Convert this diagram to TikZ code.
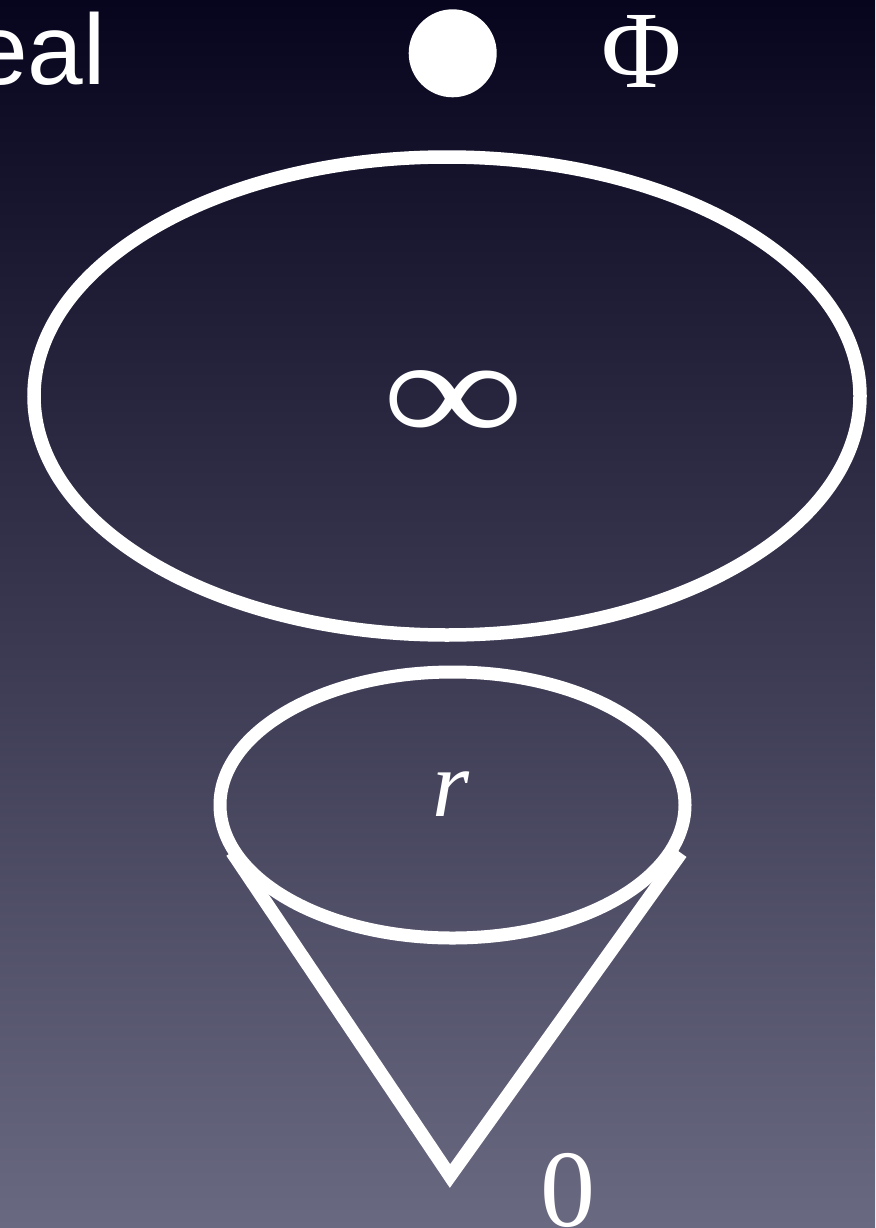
\documentclass[tikz,border=0pt]{standalone}
\usepackage{fontspec}
\usepackage{graphicx}
\setmainfont{Liberation Serif}
\newfontfamily\sansf{Liberation Sans}
\definecolor{bgtop}{HTML}{07051D}
\definecolor{bgmid}{HTML}{393A5C}
\definecolor{bgbot}{HTML}{6A6982}
\tikzset{
  stroke/.style={draw=white, line width=13.5pt},
  bigtxt/.style={text=white, inner sep=0pt, font=\fontsize{110}{110}\selectfont},
  labeltxt/.style={text=white, inner sep=0pt},
}
\begin{document}
\begin{tikzpicture}[x=1pt,y=-1pt]
\useasboundingbox (0,0) rectangle (875,1228);
\clip (0,0) rectangle (875,1228);
\shade[top color=bgtop, middle color=bgmid, bottom color=bgbot] (0,0) rectangle (875,1228);
% title fragment, dot and Phi
\node[labeltxt, anchor=base west, font=\sansf\fontsize{100}{100}\selectfont] (title) at (-28,85) {eal};
\coordinate (dotc) at (452.7,53.3);
\fill[white] (dotc) circle[radius=44];
\node[bigtxt] (phi) at (641.5,51.5) {Φ};
% big ellipse
\coordinate (bigc) at (447,396);
\draw[stroke] (bigc) ellipse[x radius=413, y radius=239];
\node[labeltxt, font=\fontsize{190}{190}\selectfont] (inf) at (454,407) {\scalebox{1.05}[0.8]{∞}};
% small ellipse and cone
\coordinate (smallc) at (452.5,805);
\draw[stroke, line width=13pt] (smallc) ellipse[x radius=232.5, y radius=133];
\node[labeltxt, font=\itshape\fontsize{95}{95}\selectfont] (r) at (451,794) {r};
\coordinate (coneL) at (232,852);
\coordinate (coneR) at (681,853);
\coordinate (apex) at (450,1176);
\draw[stroke, line width=13.5pt, line join=miter] (coneL) -- (apex) -- (coneR);
\node[bigtxt] (zero) at (568,1190) {0};
\end{tikzpicture}
\end{document}
